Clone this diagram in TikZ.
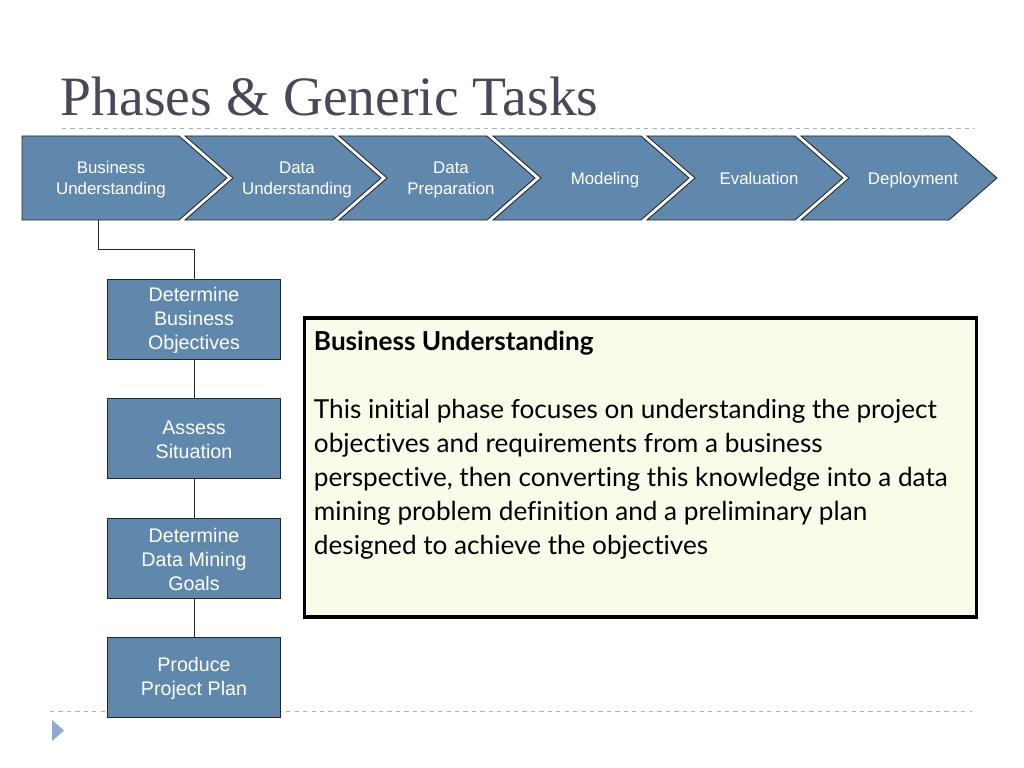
\documentclass[tikz,border=0pt]{standalone}
\usepackage{fontspec}
\setmainfont{Liberation Sans}
\newfontfamily\titlefont{Liberation Serif}
\newfontfamily\bodyfont[Ligatures=NoCommon]{Lato}
\usetikzlibrary{positioning,calc}
\definecolor{phaseblue}{RGB}{96,136,172}
\definecolor{rulegray}{RGB}{160,180,200}
\definecolor{notefill}{RGB}{248,252,232}
\definecolor{titlegray}{RGB}{72,72,88}
\definecolor{markblue}{RGB}{140,170,205}

\tikzset{
  phase/.style={draw=black!85,line width=0.6pt,fill=phaseblue},
  phaselbl/.style={text=white,font=\fontsize{12}{14.3}\selectfont,align=center},
  taskbox/.style={draw=black!85,line width=0.6pt,fill=phaseblue,text=white,
    minimum width=4.325cm,minimum height=2cm,align=center,
    font=\fontsize{14}{17}\selectfont},
  link/.style={draw=black!85,line width=0.6pt},
  sep/.style={draw=rulegray,dashed,line width=0.5pt}
}

\begin{document}
\begin{tikzpicture}[x=0.025cm,y=-0.025cm]
\useasboundingbox (0,0) rectangle (1024,768);
% --- title and rules ---
\node[anchor=west,text=titlegray,font=\titlefont\fontsize{39.5}{44}\selectfont] (title) at (56,97) {Phases \& Generic Tasks};
\draw[sep] (62,128) -- (975,128);
\draw[sep] (50,711) -- (972,711);
\fill[markblue] (52,720) -- (64,730.5) -- (52,741) -- cycle;
% --- phase chevrons ---
\path[phase] (22,136) -- (179,136) -- (227,178) -- (179,220) -- (22,220) -- cycle;
\node[phaselbl] (bu) at (111,180) {\strut Business\\Understanding\strut};
\coordinate (bu-foot) at (98,220);
\foreach \k/\lbl/\nm in {1/{Data\\Understanding}/du,2/{Data\\Preparation}/dp,
    3/Modeling/mo,4/Evaluation/ev,5/Deployment/de}{
  \pgfmathsetmacro{\L}{185+154*(\k-1)}
  \path[phase] (\L,136) -- ++(148,0) -- ++(48,42) -- ++(-48,42) -- ++(-148,0) -- ++(48,-42) -- cycle;
  \node[phaselbl] (\nm) at (\L+112,180) {\strut\lbl\strut};
}
% --- generic tasks ---
\node[taskbox] (t1) at (194,319) {\strut Determine\\Business\\ Objectives};
\node[taskbox] (t2) at (194,438) {\strut Assess\\Situation};
\node[taskbox] (t3) at (194,558) {\strut Determine\\Data Mining\\Goals};
\node[taskbox] (t4) at (194,677) {\strut Produce\\Project Plan};
\draw[link] (bu-foot) |- ($(bu-foot)!0.5!(t1.north)$) -| (t1.north);
\draw[link] (t1) -- (t2);
\draw[link] (t2) -- (t3);
\draw[link] (t3) -- (t4);
% --- description ---
\node[draw=black,line width=2.2pt,fill=notefill,minimum width=16.8cm,minimum height=7.475cm] (note) at (640.5,467.5) {};
\node[anchor=north west,align=left,font=\bodyfont\fontsize{18.6}{24.2}\selectfont] (notetxt) at (309,326)
  {\textbf{Business Understanding}\\[24.2pt]
   This initial phase focuses on understanding the project\\
   objectives and requirements from a business\\
   perspective, then converting this knowledge into a data\\
   mining problem definition and a preliminary plan\\
   designed to achieve the objectives};
\end{tikzpicture}
\end{document}
